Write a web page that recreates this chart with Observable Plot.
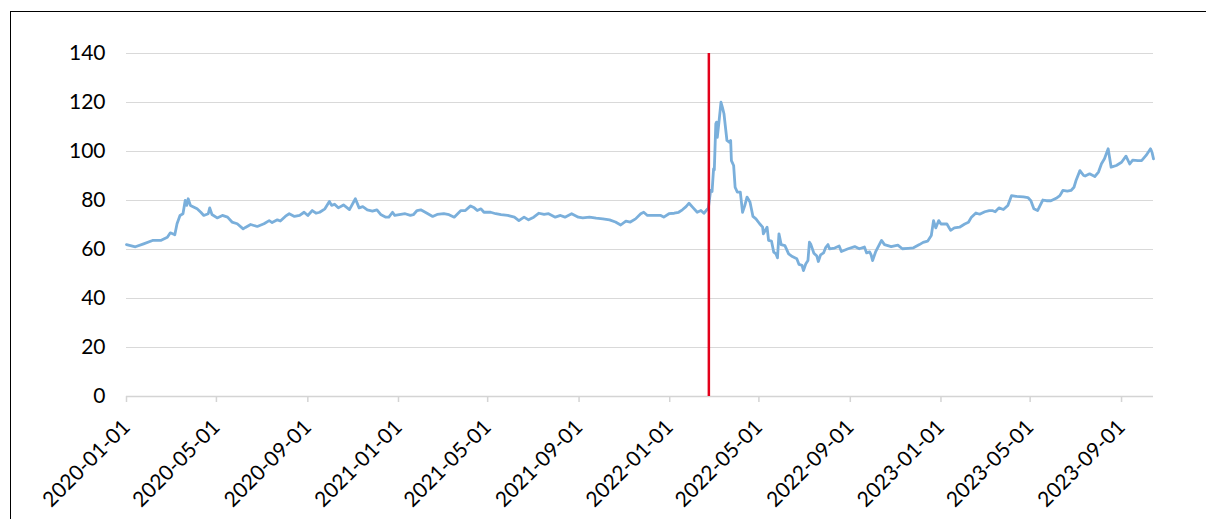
<!DOCTYPE html>
<html>
<head>
<meta charset="utf-8">
<script src="https://cdn.jsdelivr.net/npm/d3@7"></script>
<script src="https://cdn.jsdelivr.net/npm/@observablehq/plot@0.6"></script>
<style>
  html, body { margin: 0; padding: 0; background: #fff; overflow: hidden; }
  #wrap { position: relative; width: 1206px; height: 519px; overflow: hidden; }
  #frame { position: absolute; left: 10px; top: 11px; width: 1300px; height: 600px; border: 1px solid #000; pointer-events: none; }
  #chart { position: absolute; left: 0; top: 0; }
</style>
</head>
<body>
<div id="wrap"><div id="chart"></div><div id="frame"></div></div>
<script>
const dates = [
"2020-01-01","2020-01-13","2020-01-24","2020-02-05","2020-02-16","2020-02-25","2020-02-29","2020-03-06","2020-03-09","2020-03-13",
"2020-03-17","2020-03-20","2020-03-22","2020-03-24","2020-03-27","2020-04-05","2020-04-10","2020-04-14","2020-04-20","2020-04-22",
"2020-04-25","2020-05-02","2020-05-09","2020-05-16","2020-05-22","2020-05-29","2020-06-06","2020-06-09","2020-06-16","2020-06-25",
"2020-07-04","2020-07-11","2020-07-15","2020-07-22","2020-07-26","2020-08-02","2020-08-07","2020-08-14","2020-08-21","2020-08-27",
"2020-09-01","2020-09-07","2020-09-12","2020-09-17","2020-09-24","2020-09-30","2020-10-03","2020-10-07","2020-10-12","2020-10-19",
"2020-10-27","2020-11-04","2020-11-09","2020-11-14","2020-11-20","2020-11-27","2020-12-03","2020-12-08","2020-12-15","2020-12-19",
"2020-12-24","2020-12-27","2021-01-10","2021-01-17","2021-01-21","2021-01-26","2021-01-31","2021-02-06","2021-02-16","2021-02-22",
"2021-03-03","2021-03-10","2021-03-17","2021-03-26","2021-04-01","2021-04-08","2021-04-13","2021-04-17","2021-04-22","2021-04-26",
"2021-05-05","2021-05-12","2021-05-19","2021-05-28","2021-06-06","2021-06-12","2021-06-19","2021-06-25","2021-07-02","2021-07-09",
"2021-07-16","2021-07-22","2021-07-31","2021-08-07","2021-08-13","2021-08-22","2021-08-31","2021-09-06","2021-09-15","2021-09-24",
"2021-10-03","2021-10-12","2021-10-20","2021-10-27","2021-11-03","2021-11-09","2021-11-16","2021-11-23","2021-11-27","2021-12-02",
"2021-12-11","2021-12-20","2021-12-24","2021-12-31","2022-01-07","2022-01-13","2022-01-18","2022-01-23","2022-01-27","2022-02-01",
"2022-02-07","2022-02-12","2022-02-16","2022-02-19","2022-02-22","2022-02-25","2022-02-27","2022-03-01","2022-03-02","2022-03-04",
"2022-03-05","2022-03-06","2022-03-08","2022-03-11","2022-03-13","2022-03-15","2022-03-17","2022-03-19","2022-03-22","2022-03-24",
"2022-03-25","2022-03-28","2022-03-30","2022-04-02","2022-04-06","2022-04-07","2022-04-09","2022-04-12","2022-04-15","2022-04-19",
"2022-04-23","2022-04-27","2022-05-02","2022-05-06","2022-05-07","2022-05-12","2022-05-14","2022-05-18","2022-05-21","2022-05-24",
"2022-05-26","2022-05-28","2022-05-31","2022-06-05","2022-06-10","2022-06-15","2022-06-21","2022-06-24","2022-06-28","2022-06-30",
"2022-07-03","2022-07-06","2022-07-08","2022-07-10","2022-07-14","2022-07-18","2022-07-20","2022-07-23","2022-07-27","2022-07-30",
"2022-08-02","2022-08-04","2022-08-11","2022-08-17","2022-08-20","2022-08-29","2022-09-07","2022-09-13","2022-09-20","2022-09-23",
"2022-09-27","2022-09-29","2022-10-01","2022-10-05","2022-10-13","2022-10-17","2022-10-26","2022-11-04","2022-11-10","2022-11-18",
"2022-11-25","2022-12-03","2022-12-08","2022-12-14","2022-12-19","2022-12-22","2022-12-25","2022-12-29","2023-01-01","2023-01-09",
"2023-01-14","2023-01-19","2023-01-26","2023-02-02","2023-02-07","2023-02-11","2023-02-17","2023-02-22","2023-03-01","2023-03-07",
"2023-03-11","2023-03-15","2023-03-20","2023-03-26","2023-04-01","2023-04-06","2023-04-12","2023-04-22","2023-04-28","2023-05-02",
"2023-05-06","2023-05-11","2023-05-18","2023-05-23","2023-05-29","2023-06-05","2023-06-10","2023-06-14","2023-06-20","2023-06-25",
"2023-06-29","2023-07-02","2023-07-07","2023-07-12","2023-07-14","2023-07-20","2023-07-27","2023-08-01","2023-08-05","2023-08-09",
"2023-08-14","2023-08-18","2023-08-25","2023-09-01","2023-09-07","2023-09-12","2023-09-16","2023-09-23","2023-09-28","2023-10-04",
"2023-10-10","2023-10-12","2023-10-14"
];
const values = [
62.0,61.1,62.3,63.7,63.7,65.0,66.8,66.0,70.5,73.9,
74.6,80.0,78.0,80.7,78.0,76.6,75.2,73.9,74.6,77.0,
74.3,72.9,73.9,73.2,71.2,70.5,68.4,69.0,70.2,69.4,
70.5,71.8,71.0,72.1,71.6,73.6,74.6,73.5,73.9,75.2,
73.9,75.9,74.8,75.2,76.6,79.6,78.0,78.5,77.0,78.2,
76.3,80.7,77.0,77.5,76.2,75.7,76.2,74.3,73.2,73.2,
75.2,73.9,74.6,73.9,74.2,75.9,76.2,75.2,73.5,74.3,
74.6,74.2,73.2,75.9,75.9,77.8,77.0,75.9,76.6,75.2,
75.2,74.6,74.2,73.9,73.2,71.8,73.2,72.1,73.2,74.8,
74.3,74.6,73.2,73.9,73.2,74.6,73.2,72.9,73.2,72.8,
72.5,72.1,71.2,70.0,71.6,71.2,72.5,74.6,75.2,73.9,
73.9,73.9,73.2,74.6,74.8,75.2,76.2,77.5,78.9,77.2,
75.2,75.9,74.8,75.9,76.9,84.1,83.7,92.9,92.5,111.3,
112.0,105.8,111.3,120.1,117.9,115.4,109.9,104.5,103.8,104.5,
96.3,94.3,85.4,83.4,83.4,80.7,75.2,77.9,81.4,79.4,
73.5,72.5,70.5,69.1,66.4,69.1,63.7,63.4,58.9,58.2,
56.6,66.4,62.0,61.6,58.2,57.1,56.2,53.9,53.5,51.4,
54.1,55.5,63.0,62.0,58.5,57.3,55.1,57.8,58.6,60.9,
62.0,60.3,60.6,61.4,59.2,60.3,61.2,60.3,61.0,58.6,
59.0,57.8,55.5,59.0,63.7,62.0,61.2,61.8,60.3,60.5,
60.7,62.0,62.9,63.4,65.7,71.8,68.8,71.8,70.4,70.4,
67.8,68.8,69.1,70.4,71.1,73.2,74.9,74.4,75.4,75.9,
75.9,75.4,77.0,76.3,78.0,82.0,81.7,81.5,81.2,79.9,
76.6,75.9,80.2,79.9,79.9,80.9,82.0,84.1,83.8,84.1,
85.4,88.4,92.2,90.2,90.0,90.9,89.8,91.6,95.0,97.0,
101.1,93.6,94.3,95.6,98.1,94.9,96.5,96.3,96.3,98.4,
101.1,99.7,97.0
];
const yTicks = [0, 20, 40, 60, 80, 100, 120, 140];
const xTicks = ["2020-01-01","2020-05-01","2020-09-01","2021-01-01","2021-05-01","2021-09-01",
  "2022-01-01","2022-05-01","2022-09-01","2023-01-01","2023-05-01","2023-09-01"];
const xStart = "2020-01-01";
const xEnd = "2023-10-14";
const eventDates = ["2022-02-24"];

const data = dates.map((d, i) => ({date: new Date(d), value: values[i]}));
const fmt = d3.utcFormat("%Y-%m-%d");

const chart = Plot.plot({
  width: 1206,
  height: 519,
  marginLeft: 126,
  marginRight: 53,
  marginTop: 53,
  marginBottom: 123,
  style: {fontFamily: "Lato, 'DejaVu Sans', sans-serif", fontSize: "21px", color: "#000", background: "transparent"},
  x: {type: "utc", domain: [new Date(xStart), new Date(xEnd)]},
  y: {domain: [0, 140]},
  marks: [
    Plot.gridY(yTicks.filter(d => d > 0), {stroke: "#d9d9d9", strokeOpacity: 1, strokeWidth: 1}),
    Plot.axisY(yTicks, {tickSize: 0, tickPadding: 21, fontSize: 21, fill: "#000", label: null}),
    Plot.ruleY([0], {stroke: "#d4d4d4", strokeWidth: 1.5}),
    Plot.axisX(xTicks.map(d => new Date(d)), {tickSize: 6, stroke: "#d4d4d4", strokeWidth: 1.5, tickRotate: -45, tickPadding: 21, tickFormat: fmt, fontSize: 21, fill: "#000", label: null}),
    Plot.lineY(data, {x: "date", y: "value", stroke: "#7aafdb", strokeWidth: 2.8}),
    Plot.ruleX(eventDates.map(d => new Date(d)), {y1: 0, y2: 140, stroke: "#e3001b", strokeWidth: 2.5, dx: -1})
  ]
});
document.getElementById("chart").appendChild(chart);
</script>
</body>
</html>
